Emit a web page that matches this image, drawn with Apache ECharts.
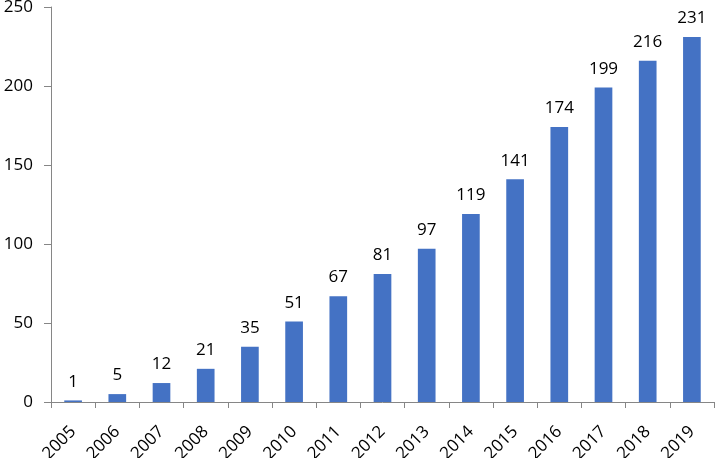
<!DOCTYPE html>
<html><head><meta charset="utf-8">
<script src="https://cdn.jsdelivr.net/npm/echarts@6/dist/echarts.min.js"></script>
<style>html,body{margin:0;padding:0;background:#fff}#c{width:715px;height:458px}</style>
</head><body><div id="c"></div>
<script>
const categories = ['2005','2006','2007','2008','2009','2010','2011','2012','2013','2014','2015','2016','2017','2018','2019'];
const values = [1,5,12,21,35,51,67,81,97,119,141,174,199,216,231];
const yTicks = [0,50,100,150,200,250];
const FONT = '"Open Sans", "DejaVu Sans", sans-serif';
const chart = echarts.init(document.getElementById('c'), null, {renderer:'canvas'});
chart.setOption({
  animation:false,
  grid:{left:51,right:1,top:7,bottom:56,containLabel:false,outerBoundsMode:'none'},
  xAxis:{type:'category',data:categories,
    axisLine:{lineStyle:{color:'#868686',width:1}},
    axisTick:{show:true,alignWithLabel:false,length:6,lineStyle:{color:'#868686'}},
    axisLabel:{rotate:45,color:'#000',fontSize:17,fontFamily:FONT,margin:27,interval:0}},
  yAxis:{type:'value',min:yTicks[0],max:yTicks[yTicks.length-1],interval:yTicks[1]-yTicks[0],
    splitLine:{show:false},
    axisLine:{show:true,lineStyle:{color:'#868686',width:1}},
    axisTick:{show:true,length:7,lineStyle:{color:'#868686'}},
    axisLabel:{color:'#000',fontSize:17,fontFamily:FONT,margin:18}},
  series:[{type:'bar',data:values,barWidth:'40%',itemStyle:{color:'#4472C4'},
    label:{show:true,position:'top',distance:10,color:'#000',fontSize:17,fontFamily:FONT}}]
});
</script></body></html>
